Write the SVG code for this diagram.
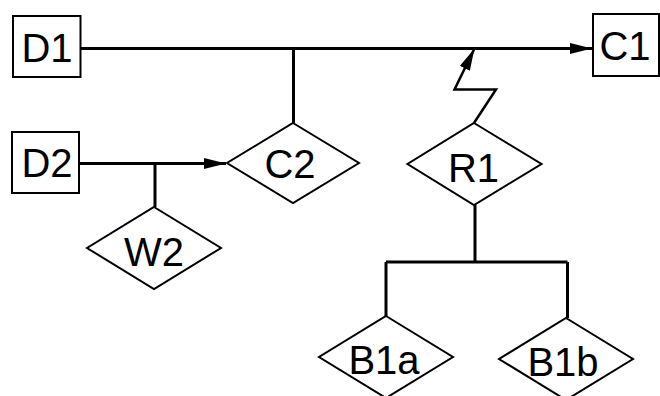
<svg xmlns="http://www.w3.org/2000/svg" width="660" height="396" viewBox="0 0 660 396">
<defs>
<style>
.box{fill:#fff;stroke:#000;stroke-width:2}
.dia{fill:#fff;stroke:#000;stroke-width:2}
.lbl{font-family:"Liberation Sans",Arial,sans-serif;font-size:40px;fill:#000;text-anchor:middle}
.wire{fill:none;stroke:#000;stroke-width:3}
.zig{fill:none;stroke:#000;stroke-width:2.5}
</style>
<marker id="arr" markerUnits="userSpaceOnUse" markerWidth="24" markerHeight="12" refX="22" refY="5.5" orient="auto">
<path d="M0,0 L22,5.5 L0,11 Z" fill="#000"/>
</marker>
</defs>
<g id="connectors">
<path class="wire" d="M81,48.5 H592" marker-end="url(#arr)"/>
<path class="wire" d="M293.5,48.5 V123"/>
<path class="wire" d="M79,163.5 H226" marker-end="url(#arr)"/>
<path class="wire" d="M155,163.5 V207"/>
<path class="zig" d="M474,123 L496,89.5 H454.5 L474.5,48.5" marker-end="url(#arr)"/>
<path class="wire" d="M475,205 V262 M386,262 H567.5 M386,262 V316 M567.5,262 V318"/>
</g>
<g id="D1"><rect class="box" x="13" y="16" width="67.5" height="61"/><text class="lbl" x="47" y="62">D1</text></g>
<g id="C1"><rect class="box" x="593" y="14" width="66" height="62"/><text class="lbl" x="625" y="60">C1</text></g>
<g id="D2"><rect class="box" x="12" y="132" width="67" height="61"/><text class="lbl" x="47" y="177">D2</text></g>
<g id="C2"><polygon class="dia" points="293,123 359,163 293,203 227,163"/><text class="lbl" x="290" y="178">C2</text></g>
<g id="W2"><polygon class="dia" points="154,207 221,248 154,289 87,248"/><text class="lbl" x="154" y="266">W2</text></g>
<g id="R1"><polygon class="dia" points="474,123 541.5,164 474,205 407.5,164"/><text class="lbl" x="473.5" y="181.5">R1</text></g>
<g id="B1a"><polygon class="dia" points="386,316 453,357 386,398 319,357"/><text class="lbl" x="384" y="374">B1a</text></g>
<g id="B1b"><polygon class="dia" points="566,318 633,359 566,400 499,359"/><text class="lbl" x="563" y="376">B1b</text></g>
</svg>
